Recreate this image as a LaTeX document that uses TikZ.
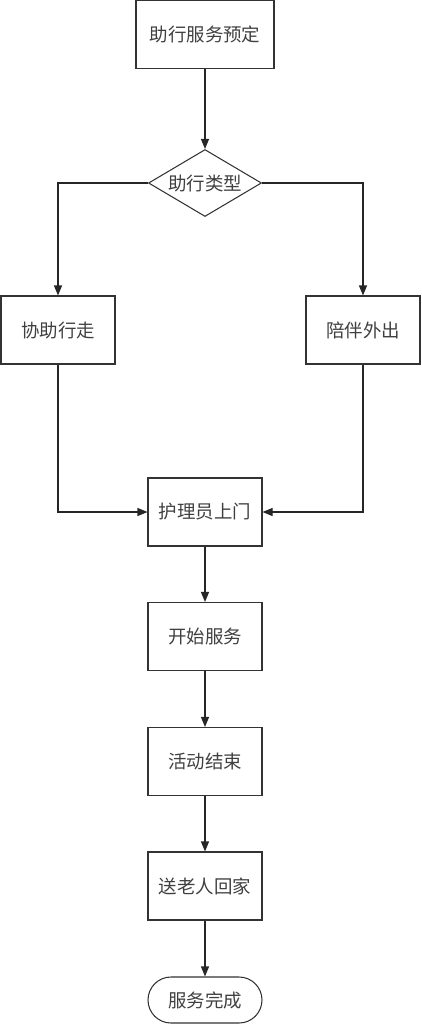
\documentclass[tikz,border=0pt]{standalone}
\usepackage{fontspec}
\newfontfamily\cjk{Noto Sans CJK SC}
\usetikzlibrary{arrows.meta,shapes.geometric}

\tikzset{
  box/.style={draw=black!80, line width=0.6pt, minimum width=2.28cm, minimum height=1.36cm, font=\cjk\fontsize{10.5}{12}\selectfont, text=black!75},
  choice/.style={draw=black!80, line width=0.6pt, diamond, aspect=1.7, inner sep=0pt, minimum width=2.26cm, minimum height=1.34cm, font=\cjk\fontsize{10.5}{12}\selectfont, text=black!75},
  finish/.style={draw=black!80, line width=0.6pt, rounded corners=0.46cm, minimum width=2.28cm, minimum height=0.92cm, font=\cjk\fontsize{10.5}{12}\selectfont, text=black!75},
  arr/.style={draw=black!85, line width=0.6pt, -{Triangle[length=2mm,width=1.6mm]}}
}

\begin{document}
\begin{tikzpicture}

\useasboundingbox (0,0) rectangle (8.42,-20.48);

\node[box, minimum width=2.76cm] (order) at (4.10,-0.69) {助行服务预定};
\node[choice] (kind) at (4.10,-3.66) {助行类型};
\node[box] (walk) at (1.16,-6.60) {协助行走};
\node[box] (out) at (7.26,-6.60) {陪伴外出};
\node[box] (visit) at (4.10,-10.24) {护理员上门};
\node[box] (start) at (4.10,-12.73) {开始服务};
\node[box] (end) at (4.10,-15.23) {活动结束};
\node[box] (home) at (4.10,-17.72) {送老人回家};
\node[finish] (done) at (4.10,-20.00) {服务完成};

\path[arr] (order) -- (kind);
\path[arr] (kind.west) -| (walk);
\path[arr] (kind.east) -| (out);
\path[arr] (walk) |- (visit);
\path[arr] (out) |- (visit);
\path[arr] (visit) -- (start);
\path[arr] (start) -- (end);
\path[arr] (end) -- (home);
\path[arr] (home) -- (done);

\end{tikzpicture}
\end{document}
